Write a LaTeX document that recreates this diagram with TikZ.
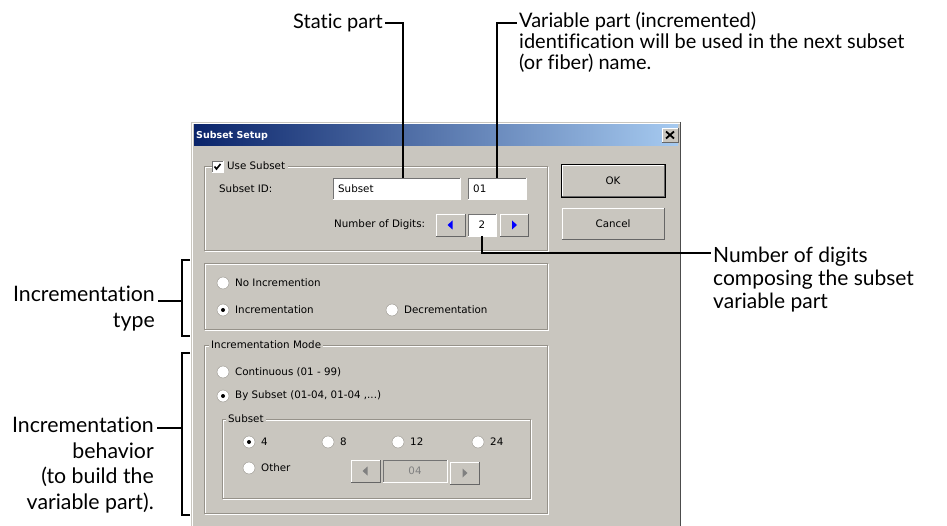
\documentclass[tikz,border=0pt]{standalone}
\usepackage{fontspec}
\setmainfont{Lato}[Ligatures=NoCommon]
\newfontfamily\dlgfont{DejaVu Sans}
\usetikzlibrary{positioning,calc}

\definecolor{dlgbg}{RGB}{201,198,191}
\definecolor{grooveclr}{RGB}{150,146,138}
\definecolor{titledk}{RGB}{10,36,106}
\definecolor{titlelt}{RGB}{166,202,240}
\definecolor{arrowblue}{RGB}{0,0,255}

\newcommand\raisedge[1]{%
  \draw[white] (#1.south west) -- (#1.north west) -- (#1.north east);
  \draw[black!60] (#1.south west) -- (#1.south east) -- (#1.north east);}
\newcommand\sunkedge[1]{%
  \draw[black!55] (#1.south west) -- (#1.north west) -- (#1.north east);
  \draw[white] (#1.south west) -- (#1.south east) -- (#1.north east);}

\tikzset{
  dlg/.style={font=\dlgfont\fontsize{10.3}{12}\selectfont, inner sep=0},
  note/.style={font=\fontsize{20}{21}\selectfont, inner xsep=2pt, inner ysep=0, align=left},
  side/.style={font=\fontsize{21.3}{25.5}\selectfont, inner xsep=3pt, inner ysep=0, align=right},
  lead/.style={line width=2pt},
  field/.style={dlg, fill=white, outer sep=0, anchor=north west},
  btn/.style={dlg, fill=dlgbg, outer sep=0, anchor=north west},
  radio/.style={draw=grooveclr, fill=white},
}

\begin{document}
\begin{tikzpicture}[x=1pt,y=-1pt]
\clip (0,0) rectangle (947,526);
% dialog window
\fill[dlgbg] (191,122) rectangle (681,540);
\draw[white] (192.5,540) -- (192.5,123.5) -- (679.5,123.5);
\draw[black!70] (680.5,122) -- (680.5,540);
\shade[left color=titledk, right color=titlelt] (194,125) rectangle (678,146);
\node[dlg, font=\dlgfont\bfseries\fontsize{9.5}{11}\selectfont, text=white, anchor=west] (title) at (196,135.5) {Subset Setup};
\node[btn, minimum width=16, minimum height=14] (close) at (662,128) {};
\raisedge{close}
\draw[line width=1.8pt] ([shift={(-4,-3.5)}]close.center) -- ([shift={(4,3.5)}]close.center)
  ([shift={(-4,3.5)}]close.center) -- ([shift={(4,-3.5)}]close.center);

% group frames
\foreach \a/\b/\c/\d in {204/166/547/250, 204/263/547/329, 204/345/547/513, 222/419/530/498}{
  \draw[white] (\a+1,\b+1) rectangle (\c+1,\d+1);
  \draw[grooveclr] (\a,\b) rectangle (\c,\d);
}
\node[field, minimum width=11, minimum height=11] (chk) at (212,161) {};
\sunkedge{chk}
\draw[line width=1.6pt] ([shift={(-3,0)}]chk.center) -- ([shift={(-1,2.5)}]chk.center) -- ([shift={(3,-2.5)}]chk.center);
\node[dlg, fill=dlgbg, inner xsep=3pt, anchor=west] (usesub) at (224,166) {Use Subset};
\node[dlg, fill=dlgbg, inner xsep=2pt, anchor=west] (incmode) at (209,345) {Incrementation Mode};
\node[dlg, fill=dlgbg, inner xsep=2pt, anchor=west] (subgrp) at (226,419) {Subset};

% subset id
\node[dlg, anchor=west] (sidlbl) at (219,189) {Subset ID:};
\node[field, minimum width=127, minimum height=21] (sid) at (333,178) {};
\sunkedge{sid}
\node[dlg, anchor=west] (sidtxt) at (338,189) {Subset};
\node[field, minimum width=58, minimum height=21] (vid) at (468,178) {};
\sunkedge{vid}
\node[dlg, anchor=west] (vidtxt) at (473,189) {01};

% number of digits
\node[dlg, anchor=west] (ndlbl) at (334,225) {Number of Digits:};
\node[btn, minimum width=29, minimum height=22] (ndleft) at (436,214) {};
\raisedge{ndleft}
\fill[arrowblue] ([shift={(2,-4.5)}]ndleft.center) -- ([shift={(-3,0)}]ndleft.center) -- ([shift={(2,4.5)}]ndleft.center) -- cycle;
\node[field, minimum width=28, minimum height=22] (ndig) at (468,214) {2};
\sunkedge{ndig}
\node[btn, minimum width=28, minimum height=22] (ndright) at (500,214) {};
\raisedge{ndright}
\fill[arrowblue] ([shift={(-2,-4.5)}]ndright.center) -- ([shift={(3,0)}]ndright.center) -- ([shift={(-2,4.5)}]ndright.center) -- cycle;

% buttons
\node[btn, minimum width=102, minimum height=31] (ok) at (562,165) {OK};
\raisedge{ok}
\draw[black] ([shift={(-1,-1)}]ok.north west) rectangle ([shift={(1,1)}]ok.south east);
\node[btn, minimum width=102, minimum height=31] (cancel) at (562,208) {Cancel};
\raisedge{cancel}

% radio buttons
\foreach \x/\y/\t/\on in {223/283/No Incremention/0, 223/310/Incrementation/1, 392/310/Decrementation/0,
    223/372/Continuous (01 - 99)/0, 223/396/{By Subset (01-04, 01-04 ,...)}/1,
    249/442/4/1, 328/442/8/0, 398/442/12/0, 478/442/24/0, 249/468/Other/0}{
  \draw[radio] (\x,\y) circle (6pt);
  \ifnum\on=1 \fill (\x,\y) circle (2pt); \fi
  \node[dlg, anchor=west] (r\x\y) at (\x+12,\y) {\t};
}

% disabled spinner
\node[btn, minimum width=29, minimum height=22] (subleft) at (351,460) {};
\raisedge{subleft}
\fill[gray] ([shift={(2,-4.5)}]subleft.center) -- ([shift={(-3,0)}]subleft.center) -- ([shift={(2,4.5)}]subleft.center) -- cycle;
\node[field, fill=dlgbg, text=gray, minimum width=64, minimum height=22] (subval) at (383,460) {04};
\sunkedge{subval}
\node[btn, minimum width=29, minimum height=22] (subright) at (450,462) {};
\raisedge{subright}
\fill[gray] ([shift={(-2,-4.5)}]subright.center) -- ([shift={(3,0)}]subright.center) -- ([shift={(-2,4.5)}]subright.center) -- cycle;

% callouts
\node[note, anchor=east] (static) at (385,23) {Static part};
\draw[lead] (static.east) -| ([xshift=6pt]sid.north);
\node[note, anchor=north west] (varpart) at (517,12) {Variable part (incremented)\\identification will be used in the next subset\\(or fiber) name.};
\draw[lead] (vid.north) |- ([yshift=-11pt]varpart.north west);
\node[note, font=\fontsize{21}{23}\selectfont, anchor=north west] (numdig) at (711,247) {Number of digits\\composing the subset\\variable part};
\draw[lead] (ndig.south) |- ([yshift=-6pt]numdig.north west);

\coordinate (tA) at (190,260);
\coordinate (tmid) at (182,301);
\coordinate (tB) at (190,336);
\node[side, anchor=north east] (inctype) at (158,286) {Incrementation\\type};
\draw[lead] (tA) -| (tmid) |- (tB);
\draw[lead] (inctype.east |- tmid) -- (tmid);

\coordinate (bA) at (190,353);
\coordinate (bmid) at (182,428);
\coordinate (bB) at (190,515);
\node[side, anchor=north east] (incbeh) at (157,417) {Incrementation\\behavior\\(to build the\\variable part).};
\draw[lead] (bA) -| (bmid) |- (bB);
\draw[lead] (incbeh.east |- bmid) -- (bmid);
\end{tikzpicture}
\end{document}
